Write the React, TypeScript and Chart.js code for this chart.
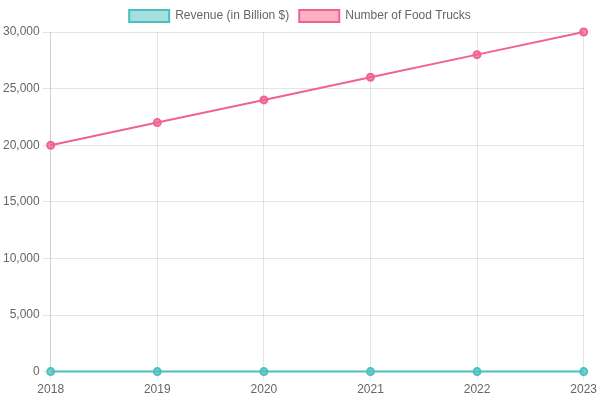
import React, { useEffect, useRef } from "react";
import { Chart, registerables } from "chart.js";

Chart.register(...registerables);

const years = ["2018", "2019", "2020", "2021", "2022", "2023"];
const revenue = [1.2, 1.4, 1.1, 1.5, 1.8, 2.0];
const foodTrucks = [20000, 22000, 24000, 26000, 28000, 30000];

export default function App() {
  const ref = useRef<HTMLCanvasElement | null>(null);
  useEffect(() => {
    document.body.style.margin = "0";
    const chart = new Chart(ref.current as HTMLCanvasElement, {
      type: "line",
      data: {
        labels: years,
        datasets: [
          {
            label: "Revenue (in Billion $)",
            data: revenue,
            borderColor: "rgb(75, 192, 192)",
            backgroundColor: "rgba(75, 192, 192, 0.5)",
            pointBackgroundColor: "rgba(75, 192, 192, 0.7)",
            borderWidth: 2,
            pointRadius: 3.5,
          },
          {
            label: "Number of Food Trucks",
            data: foodTrucks,
            borderColor: "rgb(240, 98, 146)",
            backgroundColor: "rgba(255, 99, 132, 0.5)",
            pointBackgroundColor: "rgba(240, 98, 146, 0.7)",
            borderWidth: 2,
            pointRadius: 3.5,
          },
        ],
      },
      options: {
        animation: false,
        responsive: false,
        plugins: { legend: { position: "top" } },
        scales: {
          y: { beginAtZero: true, ticks: { stepSize: 5000 } },
        },
      },
    });
    return () => chart.destroy();
  }, []);
  return <canvas ref={ref} width={600} height={400} style={{ display: "block" }} />;
}
